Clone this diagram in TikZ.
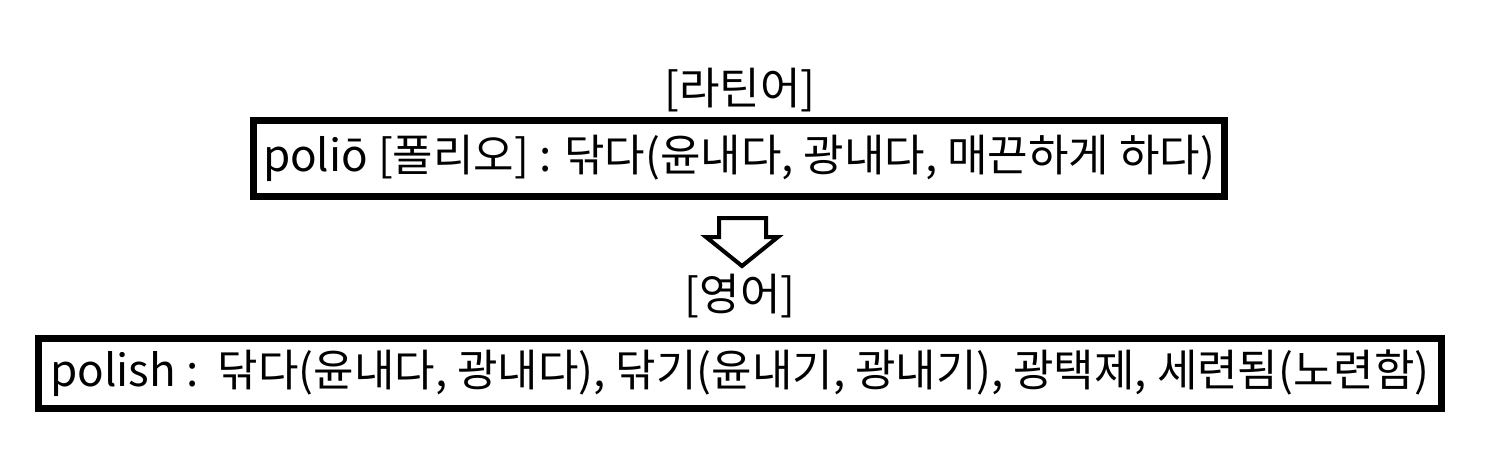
\documentclass[tikz,border=0pt]{standalone}
\usepackage{fontspec}
\setmainfont{Noto Sans CJK KR}
\begin{document}
\begin{tikzpicture}[x=1pt,y=-1pt,
  box/.style={draw=black,line width=7pt,inner sep=0pt,font=\fontsize{44}{48}\selectfont},
  lang/.style={inner sep=0pt,font=\fontsize{44}{48}\selectfont},
  blockarrow/.style={draw=black,fill=white,line width=4pt,line join=miter}]
\useasboundingbox[fill=white] (0,0) rectangle (1489,463);
\node[lang] (la) at (740,90) {[라틴어]};
\node[box,minimum width=971pt,minimum height=76pt] (b1) at (739,158.5) {poliō [폴리오] : 닦다(윤내다, 광내다, 매끈하게 하다)};
\node[lang] (en) at (740,296) {[영어]};
\node[box,minimum width=1403pt,minimum height=70pt] (b2) at (740,373.5) {polish :\ \ 닦다(윤내다, 광내다), 닦기(윤내기, 광내기), 광택제, 세련됨(노련함)};
\draw[blockarrow] (719,218) -- (766,218) -- (766,237) -- (778,237) -- (742,266) -- (706,237) -- (719,237) -- cycle;
\end{tikzpicture}
\end{document}
